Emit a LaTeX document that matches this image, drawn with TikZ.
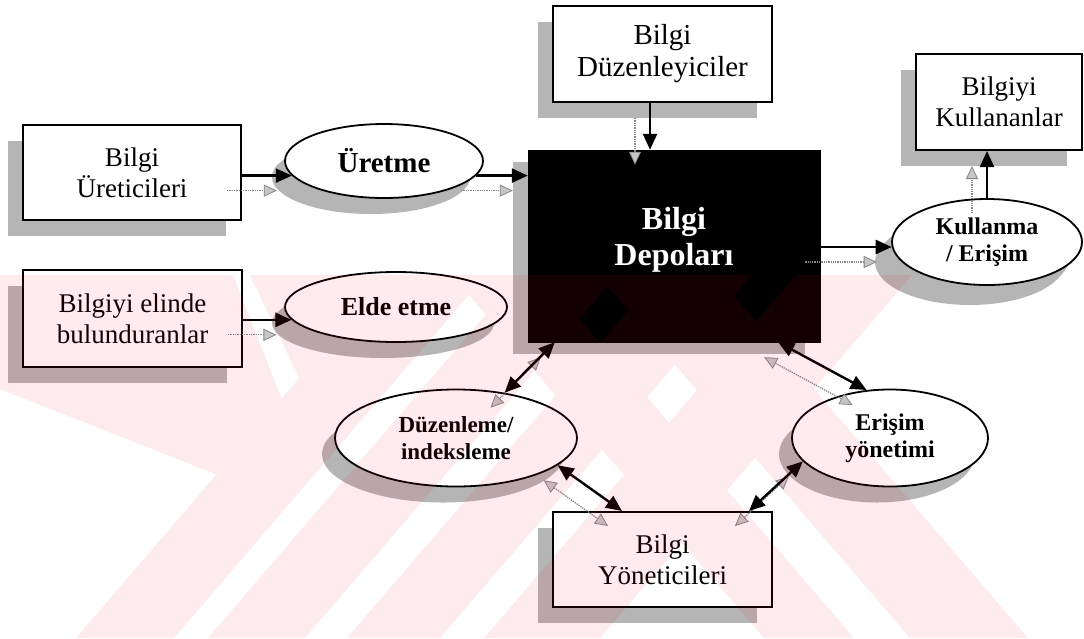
\documentclass[tikz,border=0pt]{standalone}
\usepackage{fontspec}
\setmainfont{Liberation Serif}
\usetikzlibrary{shapes.geometric,arrows.meta,shadows,calc}
\definecolor{wmred}{RGB}{230,0,40}
\begin{document}
\begin{tikzpicture}[x=1pt,y=-1pt,
  boxshadow/.style={drop shadow={shadow xshift=-15pt,shadow yshift=-16pt,fill=gray!58,opacity=1}},
  ovalshadow/.style={drop shadow={shadow xshift=-13pt,shadow yshift=-16pt,fill=gray!58,opacity=1}},
  box/.style={rectangle,draw=black,line width=2pt,fill=white,inner sep=0pt,align=center,
              font=\fontsize{27}{31}\selectfont,boxshadow},
  oval/.style={ellipse,draw=black,line width=1.8pt,fill=white,inner sep=0pt,align=center,ovalshadow},
  tipb/.tip={Triangle[length=16pt,width=14pt]},
  tipg/.tip={Triangle[length=13pt,width=12pt,fill=gray!45,line width=0.8pt]},
  blk/.style={line width=2.4pt,-tipb},
  blkdbl/.style={line width=2.4pt,tipb-tipb},
  gry/.style={draw=gray!95,line width=1.3pt,densely dotted,-tipg},
  grydbl/.style={draw=gray!95,line width=1.3pt,densely dotted,tipg-tipg}
]
\useasboundingbox (0,0) rectangle (1084,638);
\fill[white] (0,0) rectangle (1084,638);

% rectangular actors
\node[box,minimum width=218pt,minimum height=95pt] (ure) at (132,172.5) {Bilgi\\Üreticileri};
\node[box,minimum width=219pt,minimum height=97pt] (bul) at (132.5,318.5) {Bilgiyi elinde\\bulunduranlar};
\node[box,minimum width=219pt,minimum height=96pt,font=\fontsize{29}{32}\selectfont] (duz) at (662.5,54) {Bilgi\\Düzenleyiciler};
\node[box,minimum width=166pt,minimum height=96pt] (kul) at (999,102) {Bilgiyi\\Kullananlar};
\node[box,minimum width=219pt,minimum height=95pt] (yon) at (662.5,559.5) {Bilgi\\Yöneticileri};

% central repository
\node[rectangle,draw=black,fill=black,inner sep=0pt,
      minimum width=292pt,minimum height=192pt,
      drop shadow={shadow xshift=-15pt,shadow yshift=-12pt,fill=gray!58,opacity=1}]
      (dep) at (674,246) {};
\node[text=white,align=center,font=\bfseries\fontsize{32}{36}\selectfont]
      (deptext) at ([yshift=6pt]dep.center) {Bilgi\\Depoları};

% processes
\node[oval,minimum width=198pt,minimum height=74pt,font=\bfseries\fontsize{29}{33}\selectfont] (uret) at (384,161) {Üretme};
\node[oval,minimum width=222pt,minimum height=70pt,font=\bfseries\fontsize{26}{30}\selectfont] (elde) at (396,307) {Elde etme};
\node[oval,minimum width=190pt,minimum height=86pt,font=\bfseries\fontsize{24}{27}\selectfont,
      drop shadow={shadow xshift=-17pt,shadow yshift=-20pt,fill=gray!58,opacity=1}] (kull) at (987,242) {Kullanma\\/ Erişim};
\node[oval,minimum width=242pt,minimum height=97pt,font=\bfseries\fontsize{23}{27}\selectfont] (duzi) at (456,438) {Düzenleme/\\indeksleme};
\node[oval,minimum width=196pt,minimum height=97pt,font=\bfseries\fontsize{24}{27}\selectfont] (eris) at (890,438) {Erişim\\yönetimi};

% end points of the flows
\coordinate (a1) at (ure.east |- uret.189);   \coordinate (b1) at (uret.189);
\coordinate (a2) at (uret.-9);                \coordinate (b2) at (uret.-9 -| dep.west);
\coordinate (a3) at (bul.east |- elde.187);   \coordinate (b3) at (elde.187);
\coordinate (a4) at ([xshift=-12.5pt]duz.south); \coordinate (b4) at ([xshift=-12.5pt]duz.south |- dep.north);
\coordinate (a5) at (dep.east |- kull.183);   \coordinate (b5) at (kull.183);
\coordinate (a6) at (kull.north);             \coordinate (b6) at (kull.north |- kul.south);
\coordinate (a7) at ([xshift=27pt]dep.south west); \coordinate (b7) at (duzi.43);
\coordinate (a8) at (duzi.-15);               \coordinate (b8) at ([xshift=70pt]yon.north west);
\coordinate (a9) at ([xshift=-42pt]dep.south east); \coordinate (b9) at (eris.116);
\coordinate (a10) at (eris.-165);             \coordinate (b10) at ([xshift=-24pt]yon.north east);

% shadow flows (grey, dotted)
\foreach \i in {1,...,6}
  \draw[gry] ($(a\i)+(-15,15)$) -- ($(b\i)+(-15,15)$);
\foreach \i in {7,...,10}
  \draw[grydbl] ($(a\i)+(-14,15)$) -- ($(b\i)+(-14,15)$);

% main flows
\foreach \i in {1,...,6}
  \draw[blk] (a\i) -- (b\i);
\foreach \i in {7,...,10}
  \draw[blkdbl] (a\i) -- (b\i);

% faint diagonal background pattern
\begin{scope}[transparency group,opacity=0.08]
  \clip (0,275) rectangle (1084,638);
  \fill[wmred] (76,638)--(174,638)--(486,275)--(388,275)--cycle;
  \fill[wmred] (208,638)--(305,638)--(617,275)--(520,275)--cycle;
  \fill[wmred] (347,638)--(440,638)--(752,275)--(659,275)--cycle;
  \fill[wmred] (484,638)--(600,638)--(912,275)--(796,275)--cycle;
  \fill[wmred] (764,638)--(854,638)--(542,275)--(452,275)--cycle;
  \fill[wmred] (910,638)--(1028,638)--(716,275)--(598,275)--cycle;
  \fill[wmred] (0,275)--(233,275)--(290,420)--(250,492)--(228,479)--(0,389)--cycle;
  \fill[wmred] (250,275)--(390,275)--(330,345)--(300,380)--cycle;
\end{scope}
\end{tikzpicture}
\end{document}
